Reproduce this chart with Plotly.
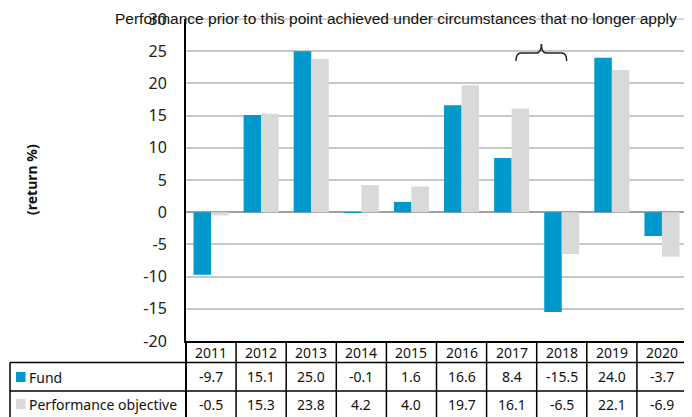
import plotly.graph_objects as go

years = ["2011", "2012", "2013", "2014", "2015", "2016", "2017", "2018", "2019", "2020"]
fund = [-9.7, 15.1, 25.0, -0.1, 1.6, 16.6, 8.4, -15.5, 24.0, -3.7]
objective = [-0.5, 15.3, 23.8, 4.2, 4.0, 19.7, 16.1, -6.5, 22.1, -6.9]
series_names = ["Fund", "Performance objective"]
y_ticks = [-20, -15, -10, -5, 0, 5, 10, 15, 20, 25, 30]
y_tick_text = ["-20", "-15", "-10", "-5", "0", "5", "10", "15", "20", "25", "30"]
note_text = "Performance prior to this point achieved under circumstances that no longer apply"
y_title = "(return %)"

BLUE = "#0099CC"
GREY = "#D9D9D9"
GRID = "#C8C8C8"
TFONT = "Noto Sans"

# page body has an 8px margin: figure is drawn 8px in from the window corner
OFF = 8
W, H = 692 - OFF, 417 - OFF
L, R, T = 186 - OFF, 5, 19 - OFF
B = H - (341 - OFF)
PW = W - L - R
PH = H - T - B


def px_x(px):
    return (px - OFF - L) / PW


def px_y(py):
    return (H - B - (py - OFF)) / PH


fig = go.Figure()
fig.add_bar(x=years, y=fund, name=series_names[0], marker=dict(color=BLUE, line=dict(width=0)))
fig.add_bar(x=years, y=objective, name=series_names[1], marker=dict(color=GREY, line=dict(width=0)))

shapes = []
annotations = []

# table geometry (window pixels)
top = 341
r1 = 362.5
r2 = 391
bot = 421
left_px = 10
n = len(years)

line = dict(color="black", width=1.5)
for yy in (r1, r2, bot):
    shapes.append(dict(type="line", xref="paper", yref="paper", x0=px_x(left_px), x1=1, y0=px_y(yy), y1=px_y(yy), line=line))
shapes.append(dict(type="line", xref="paper", yref="paper", x0=px_x(left_px), x1=px_x(left_px), y0=px_y(r1), y1=px_y(bot), line=line))
shapes.append(dict(type="line", xref="paper", yref="paper", x0=0, x1=0, y0=px_y(top), y1=px_y(bot), line=dict(color="black", width=2)))
for i in range(1, n + 1):
    xi = i / n
    shapes.append(dict(type="line", xref="paper", yref="paper", x0=xi, x1=xi, y0=px_y(top), y1=px_y(bot), line=line))

tf = dict(family=TFONT, size=14, color="#111")
for i, yr in enumerate(years):
    xc = (i + 0.5) / n
    annotations.append(dict(x=xc, y=px_y((top + r1) / 2 + 0.5), xref="paper", yref="paper", text=yr, showarrow=False,
                            xanchor="center", yanchor="middle", font=tf))
    annotations.append(dict(x=xc, y=px_y((r1 + r2) / 2), xref="paper", yref="paper", text=f"{fund[i]:.1f}", showarrow=False,
                            xanchor="center", yanchor="middle", font=tf))
    annotations.append(dict(x=xc, y=px_y(404), xref="paper", yref="paper", text=f"{objective[i]:.1f}", showarrow=False,
                            xanchor="center", yanchor="middle", font=tf))

for name, color, yc in zip(series_names, [BLUE, GREY], [377, 404]):
    shapes.append(dict(type="rect", xref="paper", yref="paper", x0=px_x(16), x1=px_x(25.5), y0=px_y(yc - 5), y1=px_y(yc + 5),
                       fillcolor=color, line=dict(width=0)))
    annotations.append(dict(x=px_x(26.5), y=px_y(yc), xref="paper", yref="paper", text=name, showarrow=False,
                            xanchor="left", yanchor="middle", font=tf))

annotations.append(dict(x=px_x(31), y=px_y(180), xref="paper", yref="paper", text=f"<b>{y_title}</b>", textangle=-90,
                        showarrow=False, xanchor="center", yanchor="middle", font=dict(family=TFONT, size=14, color="#111")))

annotations.append(dict(x=px_x(113), y=px_y(18.5), xref="paper", yref="paper", text=note_text, showarrow=False,
                        xanchor="left", yanchor="middle", font=dict(family="Liberation Sans, Arial", size=15.5, color="#111")))

# brace
bl, bm, br = px_x(516), px_x(541.4), px_x(566.7)
yb, yh, yt = px_y(61), px_y(53), px_y(44)
dx = 0.01
path = (f"M {bl},{yb} Q {bl},{yh} {bl+dx},{yh} L {bm-dx},{yh} Q {bm},{yh} {bm},{yt} "
        f"Q {bm},{yh} {bm+dx},{yh} L {br-dx},{yh} Q {br},{yh} {br},{yb}")
shapes.append(dict(type="path", xref="paper", yref="paper", path=path, line=dict(color="#222", width=1.5)))

# gridline at the top of the value axis (runs through the note text)
shapes.append(dict(type="line", xref="paper", yref="paper", x0=0, x1=1, y0=1, y1=1,
                   line=dict(color=GRID, width=1.5), layer="above"))

fig.update_layout(
    width=W, height=H,
    margin=dict(l=L, r=R, t=T, b=B, autoexpand=False),
    paper_bgcolor="white", plot_bgcolor="white",
    barmode="group", bargap=0.3, bargroupgap=0,
    showlegend=False,
    shapes=shapes, annotations=annotations,
    xaxis=dict(type="category", showticklabels=False, showgrid=False, showline=True, linecolor="black", linewidth=2,
               ticks="", zeroline=False),
    yaxis=dict(range=[-20, 30], tickvals=y_ticks, ticktext=y_tick_text, showgrid=True, gridcolor=GRID, gridwidth=1.5,
               zeroline=True, zerolinecolor="#A0A0A0", zerolinewidth=2,
               showline=True, linecolor="black", linewidth=2, ticks="", ticklabelstandoff=14,
               ticklabeloverflow="allow",
               tickfont=dict(family=TFONT, size=16, color="#222")),
)

fig.write_html("out.html")
